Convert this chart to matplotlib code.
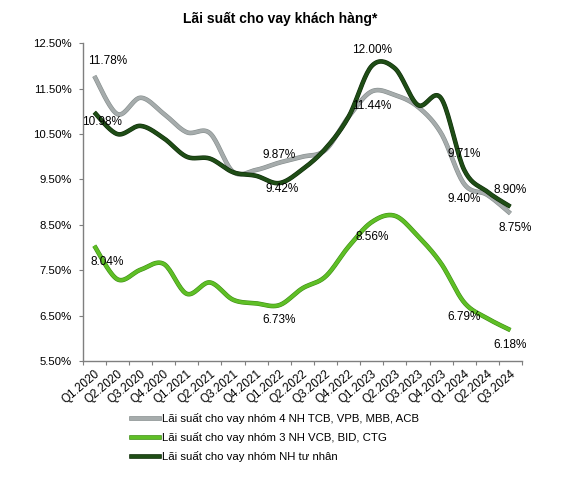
import numpy as np
import matplotlib.pyplot as plt
import matplotlib.patheffects as pe
from matplotlib.lines import Line2D

plt.rcParams['font.family'] = ['Liberation Sans', 'DejaVu Sans']

quarters = ["Q1.2020", "Q2.2020", "Q3.2020", "Q4.2020",
            "Q1.2021", "Q2.2021", "Q3.2021", "Q4.2021",
            "Q1.2022", "Q2.2022", "Q3.2022", "Q4.2022",
            "Q1.2023", "Q2.2023", "Q3.2023", "Q4.2023",
            "Q1.2024", "Q2.2024", "Q3.2024"]

# nhom 4 NH TCB, VPB, MBB, ACB
nhom4 = [11.78, 10.94, 11.30, 10.95, 10.54, 10.52, 9.67, 9.71, 9.87, 10.00,
         10.15, 10.88, 11.44, 11.36, 11.10, 10.52, 9.40, 9.16, 8.75]
# nhom 3 NH VCB, BID, CTG
nhom3 = [8.04, 7.30, 7.51, 7.64, 6.98, 7.23, 6.85, 6.77, 6.73, 7.10,
         7.36, 8.02, 8.56, 8.70, 8.25, 7.65, 6.79, 6.44, 6.18]
# nhom NH tu nhan
tunhan = [10.98, 10.50, 10.68, 10.41, 10.00, 9.96, 9.66, 9.58, 9.42, 9.72,
          10.18, 10.88, 12.00, 11.95, 11.14, 11.29, 9.71, 9.23, 8.90]

legend_labels = ["Lãi suất cho vay nhóm 4 NH TCB, VPB, MBB, ACB",
                 "Lãi suất cho vay nhóm 3 NH VCB, BID, CTG",
                 "Lãi suất cho vay nhóm NH tư nhân"]

# (series, index, dx px, dy px)
labels = [("nhom4", 0, 13, 15), ("tunhan", 0, 8, -10),
          ("nhom4", 8, 0, 8), ("tunhan", 8, 3, -6),
          ("tunhan", 12, 0, 16), ("nhom4", 12, 0, -15),
          ("tunhan", 16, 0, 16), ("nhom4", 16, 0, -15),
          ("tunhan", 18, 0, 17), ("nhom4", 18, 5, -15),
          ("nhom3", 0, 13, -16), ("nhom3", 8, 0, -15),
          ("nhom3", 12, 0, -15), ("nhom3", 16, 0, -15),
          ("nhom3", 18, 0, -15)]


def smooth(y, n=20):
    # Catmull-Rom giong duong "smoothed line" cua Excel
    y = np.asarray(y, dtype=float)
    x = np.arange(len(y), dtype=float)
    p = np.concatenate([[y[0]], y, [y[-1]]])
    px = np.concatenate([[x[0]], x, [x[-1]]])
    xs, ys = [], []
    t = np.linspace(0, 1, n, endpoint=False)
    for i in range(1, len(p) - 2):
        for arr, out in ((px, xs), (p, ys)):
            p0, p1, p2, p3 = arr[i - 1], arr[i], arr[i + 1], arr[i + 2]
            m1 = (p2 - p0) / 2
            m2 = (p3 - p1) / 2
            h00 = 2 * t**3 - 3 * t**2 + 1
            h10 = t**3 - 2 * t**2 + t
            h01 = -2 * t**3 + 3 * t**2
            h11 = t**3 - t**2
            out.extend(h00 * p1 + h10 * m1 + h01 * p2 + h11 * m2)
    xs.append(x[-1])
    ys.append(y[-1])
    return np.array(xs), np.array(ys)


series = {"nhom4": nhom4, "nhom3": nhom3, "tunhan": tunhan}
colors = {"nhom4": "#a6acac", "nhom3": "#5fbf26", "tunhan": "#1f4d16"}
edges = {"nhom4": "#838b8b", "nhom3": "#3c8a14", "tunhan": "#0e2a09"}

fig = plt.figure(figsize=(5.67, 4.78), dpi=100)
ax = fig.add_axes([0.1459, 0.2448, 0.7747, 0.6646])

lw = 2.5
for key in ["nhom4", "nhom3", "tunhan"]:
    xs, ys = smooth(series[key])
    ax.plot(xs, ys, color=colors[key], lw=lw, solid_capstyle="butt",
            path_effects=[pe.Stroke(linewidth=lw + 0.8, foreground=edges[key]),
                          pe.Normal()])

for key, i, dx, dy in labels:
    v = series[key][i]
    ax.annotate(f"{v:.2f}%", xy=(i, v), xytext=(dx * 0.72, dy * 0.72),
                textcoords="offset points", ha="center", va="center",
                fontsize=8.5)

ax.set_xlim(-0.5, len(quarters) - 0.5)
ax.set_ylim(5.5, 12.5)
ax.set_yticks(np.arange(5.5, 12.6, 1.0))
ax.set_yticklabels([f"{v:.2f}%" for v in np.arange(5.5, 12.6, 1.0)], fontsize=8.2)

ax.set_xticks(np.arange(-0.5, len(quarters), 1.0))
ax.set_xticklabels([])
ax.set_xticks(np.arange(len(quarters)), minor=True)
ax.set_xticklabels(quarters, minor=True, rotation=40, ha="right",
                   rotation_mode="anchor", fontsize=8.5)
ax.tick_params(axis="x", which="major", length=3, color="#7f7f7f", direction="out")
ax.tick_params(axis="x", which="minor", length=0, pad=5)
ax.tick_params(axis="y", length=3, color="#7f7f7f", pad=5)

for s in ["top", "right"]:
    ax.spines[s].set_visible(False)
for s in ["left", "bottom"]:
    ax.spines[s].set_color("#7f7f7f")
    ax.spines[s].set_linewidth(1.0)

fig.text(280 / 567, 1 - 19 / 478, "Lãi suất cho vay khách hàng*",
         ha="center", va="center", fontsize=10, fontweight="bold")

handles = [Line2D([], [], color=colors[k], lw=lw,
                  path_effects=[pe.Stroke(linewidth=lw + 0.8, foreground=edges[k]),
                                pe.Normal()])
           for k in ["nhom4", "nhom3", "tunhan"]]
fig.legend(handles, legend_labels, loc="upper left",
           bbox_to_anchor=(131 / 567, 1 - 413 / 478), frameon=False,
           fontsize=8.2, handlelength=2.5, handletextpad=0.25,
           labelspacing=0.72, borderpad=0, borderaxespad=0)

plt.savefig("out.png", dpi=100)
